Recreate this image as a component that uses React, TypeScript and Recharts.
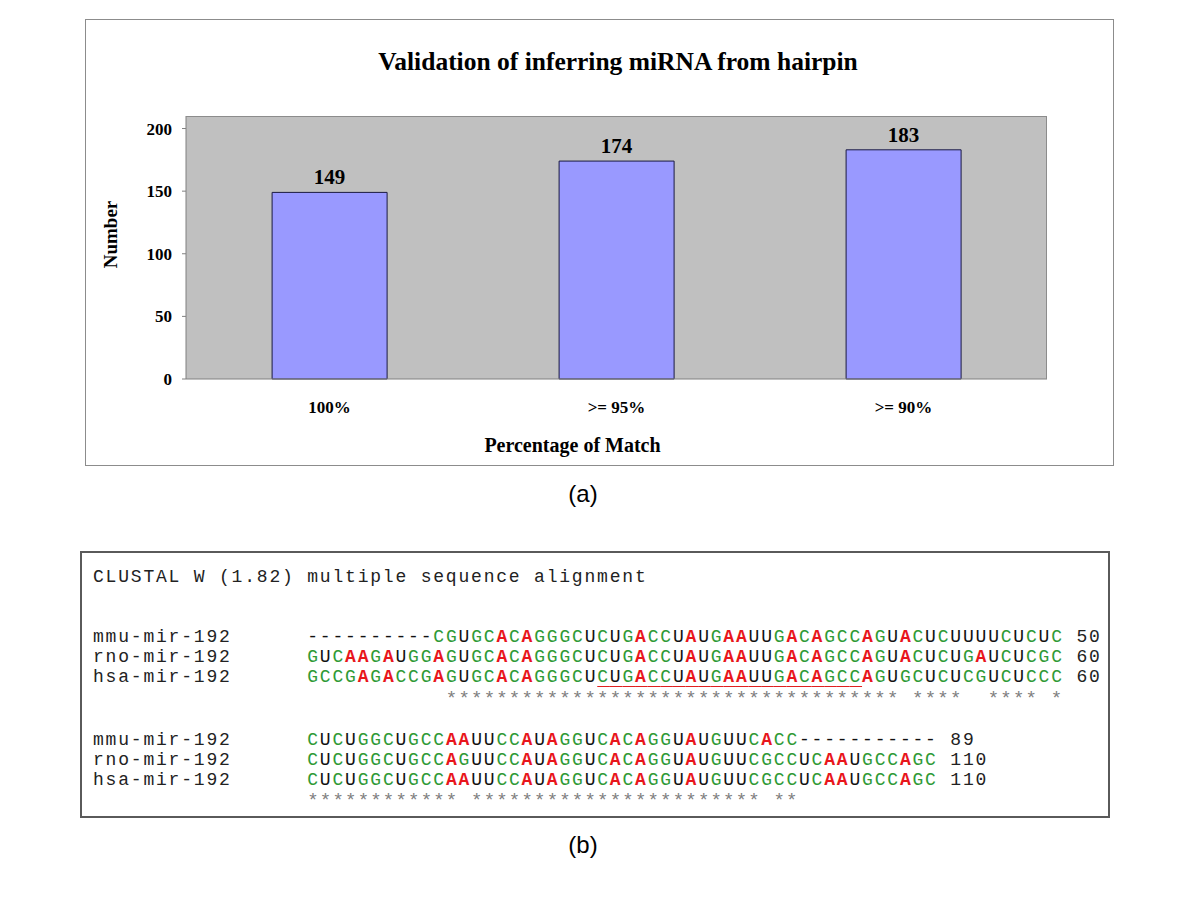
import React from 'react';
import { BarChart, Bar, XAxis, YAxis, CartesianGrid, LabelList } from 'recharts';

// chart (a)
const chartTitle = 'Validation of inferring miRNA from hairpin';
const categories = ['100%', '>= 95%', '>= 90%'];
const counts = [149, 174, 183];
const yTicks = [0, 50, 100, 150, 200];

// alignment (b)
const alignHeader = 'CLUSTAL W (1.82) multiple sequence alignment';
const seqNames = ['mmu-mir-192', 'rno-mir-192', 'hsa-mir-192'];
const block1 = [
  '----------CGUGCACAGGGCUCUGACCUAUGAAUUGACAGCCAGUACUCUUUUCUCUC',
  'GUCAAGAUGGAGUGCACAGGGCUCUGACCUAUGAAUUGACAGCCAGUACUCUGAUCUCGC',
  'GCCGAGACCGAGUGCACAGGGCUCUGACCUAUGAAUUGACAGCCAGUGCUCUCGUCUCCC',
];
const block1Ends = [50, 60, 60];
const block1Stars = '           ************************************ ****  **** *';
const block2 = [
  'CUCUGGCUGCCAAUUCCAUAGGUCACAGGUAUGUUCACC-----------',
  'CUCUGGCUGCCAGUUCCAUAGGUCACAGGUAUGUUCGCCUCAAUGCCAGC',
  'CUCUGGCUGCCAAUUCCAUAGGUCACAGGUAUGUUCGCCUCAAUGCCAGC',
];
const block2Ends = [89, 110, 110];
const block2Stars = '************ *********************** **';
// mature miRNA underlined in hsa row of first block
const matureRow = 2;
const matureStart = 23;
const matureEnd = 43;

const data = categories.map((c, i) => ({ category: c, count: counts[i] }));

const serif = '"Liberation Serif", "Times New Roman", serif';
const mono = '"Liberation Mono", "Courier New", monospace';
const sans = '"Liberation Sans", Arial, sans-serif';
const boldText = { fill: '#000', fontSize: 17, fontWeight: 'bold', fontFamily: serif };

const baseColor = (ch: string): React.CSSProperties => {
  if (ch === 'A') return { color: '#e8161c', fontWeight: 'bold' };
  if (ch === 'C' || ch === 'G') return { color: '#2f9a36' };
  return { color: '#111' };
};

const SeqRow = ({ name, seq, end, top, underline }: any) => (
  <div style={{ position: 'absolute', left: 11, top, whiteSpace: 'pre', lineHeight: '20px' }}>
    <span style={{ color: '#222' }}>{name.padEnd(17, ' ')}</span>
    {seq.split('').map((ch: string, i: number) => {
      const st: React.CSSProperties = { ...baseColor(ch) };
      if (underline && i >= matureStart && i <= matureEnd) {
        st.textDecoration = 'underline';
        st.textDecorationColor = '#e02020';
        st.textUnderlineOffset = '4px';
      }
      return <span key={i} style={st}>{ch}</span>;
    })}
    <span style={{ color: '#222' }}>{' ' + end}</span>
  </div>
);

const StarRow = ({ stars, top }: any) => (
  <div
    style={{
      position: 'absolute',
      left: 11,
      top,
      whiteSpace: 'pre',
      lineHeight: '20px',
      color: '#808080',
      fontSize: 19,
      letterSpacing: '1.2px',
    }}
  >
    {' '.repeat(17) + stars}
  </div>
);

export default function App() {
  return (
    <div style={{ position: 'relative', width: 1200, height: 900, background: '#fff' }}>
      <style>{'body{margin:0;background:#fff}'}</style>

      <div style={{ position: 'absolute', left: 85, top: 19, width: 1027, height: 445, border: '1px solid #8c8c8c' }}>
        <div
          style={{
            position: 'absolute',
            left: 0,
            width: 1064,
            top: 27,
            textAlign: 'center',
            fontFamily: serif,
            fontSize: 25.5,
            fontWeight: 'bold',
            lineHeight: '30px',
          }}
        >
          {chartTitle}
        </div>
        <BarChart
          width={1027}
          height={445}
          data={data}
          margin={{ top: 96, right: 66, left: 40, bottom: 26 }}
          barCategoryGap="30%"
        >
          <CartesianGrid horizontal={false} vertical={false} fill="#C0C0C0" />
          <XAxis
            dataKey="category"
            height={60}
            interval={0}
            tickLine={false}
            tickSize={6}
            tickMargin={16}
            axisLine={{ stroke: '#808080' }}
            tick={boldText}
            label={{
              content: ({ viewBox }: any) => (
                <text
                  x={viewBox.x + viewBox.width / 2 - 44}
                  y={viewBox.y + 66}
                  textAnchor="middle"
                  dominantBaseline="central"
                  style={{ fontFamily: serif, fontSize: 20, fontWeight: 'bold', fill: '#000' }}
                >
                  Percentage of Match
                </text>
              ),
            }}
          />
          <YAxis
            domain={[0, 210]}
            ticks={yTicks}
            width={60}
            tickSize={4}
            tickMargin={10}
            axisLine={{ stroke: '#808080' }}
            tickLine={{ stroke: '#808080' }}
            tick={boldText}
            label={{
              content: ({ viewBox }: any) => {
                const cx = viewBox.x - 16;
                const cy = viewBox.y + viewBox.height / 2 - 13;
                return (
                  <text
                    x={cx}
                    y={cy}
                    transform={`rotate(-90 ${cx} ${cy})`}
                    textAnchor="middle"
                    dominantBaseline="central"
                    style={{ fontFamily: serif, fontSize: 19, fontWeight: 'bold', fill: '#000' }}
                  >
                    Number
                  </text>
                );
              },
            }}
          />
          <Bar dataKey="count" fill="#9999FF" stroke="#1a1a40" strokeWidth={1} isAnimationActive={false}>
            <LabelList
              dataKey="count"
              position="top"
              offset={8}
              style={{ fontFamily: serif, fontSize: 21, fontWeight: 'bold', fill: '#000' }}
            />
          </Bar>
        </BarChart>
        {/* plot area frame */}
        <div
          style={{
            position: 'absolute',
            left: 100,
            top: 96,
            width: 861,
            height: 263,
            boxSizing: 'border-box',
            borderTop: '1px solid #8c8c8c',
            borderRight: '1px solid #8c8c8c',
            pointerEvents: 'none',
          }}
        />
      </div>

      <div style={{ position: 'absolute', left: 0, width: 1166, top: 480, textAlign: 'center', fontFamily: sans, fontSize: 24, lineHeight: '28px' }}>
        (a)
      </div>

      <div
        style={{
          position: 'absolute',
          left: 80,
          top: 551,
          width: 1030,
          height: 267,
          boxSizing: 'border-box',
          border: '2px solid #5a5a5a',
          fontFamily: mono,
          fontSize: 18,
          letterSpacing: '1.8px',
        }}
      >
        <div style={{ position: 'absolute', left: 11, top: 14, whiteSpace: 'pre', lineHeight: '20px', color: '#222' }}>
          {alignHeader}
        </div>
        {block1.map((s, i) => (
          <SeqRow key={'a' + i} name={seqNames[i]} seq={s} end={block1Ends[i]} top={74 + i * 20} underline={i === matureRow} />
        ))}
        <StarRow stars={block1Stars} top={136} />
        {block2.map((s, i) => (
          <SeqRow key={'b' + i} name={seqNames[i]} seq={s} end={block2Ends[i]} top={177 + i * 20} underline={false} />
        ))}
        <StarRow stars={block2Stars} top={238} />
      </div>

      <div style={{ position: 'absolute', left: 0, width: 1166, top: 831, textAlign: 'center', fontFamily: sans, fontSize: 24, lineHeight: '28px' }}>
        (b)
      </div>
    </div>
  );
}
